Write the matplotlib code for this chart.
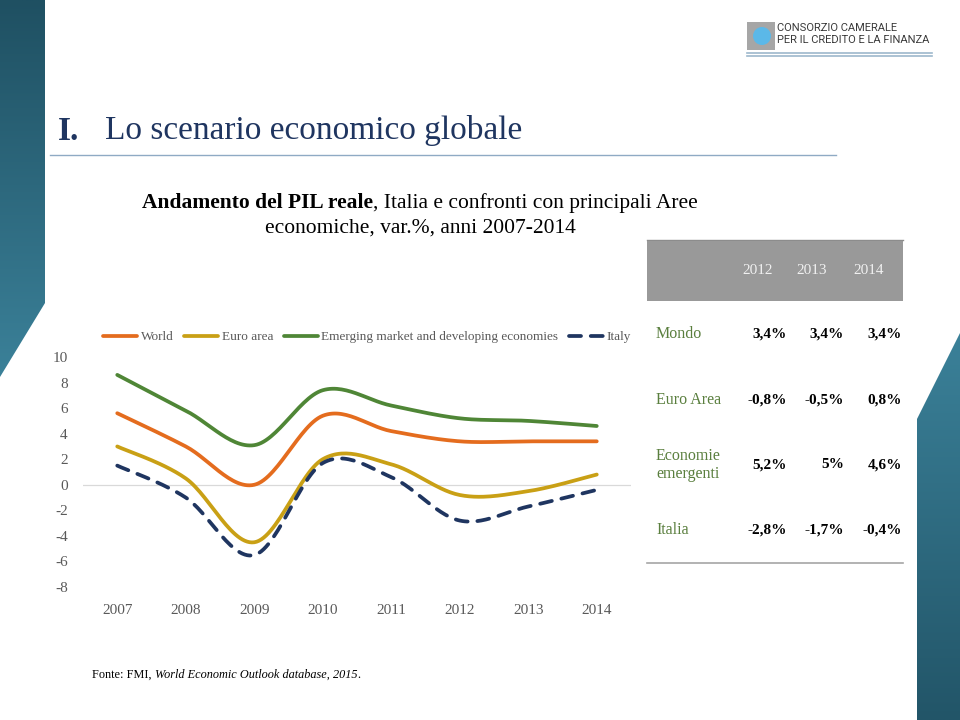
import numpy as np
import matplotlib
matplotlib.use("Agg")
import matplotlib.pyplot as plt
from matplotlib.colors import LinearSegmentedColormap
from matplotlib.patches import Polygon, Rectangle, Circle

# ---------------- data ----------------
years = [2007, 2008, 2009, 2010, 2011, 2012, 2013, 2014]
world = [5.6, 3.0, 0.0, 5.4, 4.2, 3.4, 3.4, 3.4]
euro_area = [3.0, 0.5, -4.5, 2.0, 1.6, -0.8, -0.5, 0.8]
emerging = [8.6, 5.8, 3.1, 7.4, 6.2, 5.2, 5.0, 4.6]
italy = [1.5, -1.0, -5.5, 1.7, 0.6, -2.8, -1.7, -0.4]
series_names = ["World", "Euro area", "Emerging market and developing economies", "Italy"]
yticks = [-8, -6, -4, -2, 0, 2, 4, 6, 8, 10]

table_cols = ["2012", "2013", "2014"]
table_rows = ["Mondo", "Euro Area", "Economie\nemergenti", "Italia"]
table_vals = [["3,4%", "3,4%", "3,4%"],
              ["-0,8%", "-0,5%", "0,8%"],
              ["5,2%", "5%", "4,6%"],
              ["-2,8%", "-1,7%", "-0,4%"]]

SERIF = ["Liberation Serif", "DejaVu Serif"]
plt.rcParams["font.family"] = SERIF

W, H = 960, 720
fig = plt.figure(figsize=(9.6, 7.2), dpi=100)
bg = fig.add_axes([0, 0, 1, 1])
bg.set_xlim(0, W)
bg.set_ylim(H, 0)
bg.axis("off")

# ---------------- decorations ----------------
cm_left = LinearSegmentedColormap.from_list("l", ["#1F5062", "#3B8199"])
grad = np.linspace(0, 1, 256).reshape(-1, 1)
im = bg.imshow(grad, extent=[0, 45, 377, 0], cmap=cm_left, aspect="auto", zorder=1)
poly = Polygon([(0, 0), (45, 0), (45, 303), (0, 377)], closed=True, transform=bg.transData,
               facecolor="none", edgecolor="none")
bg.add_patch(poly)
im.set_clip_path(poly)

cm_right = LinearSegmentedColormap.from_list("r", ["#3B8199", "#225568"])
im2 = bg.imshow(grad, extent=[917, 960, 720, 333], cmap=cm_right, aspect="auto", zorder=1)
poly2 = Polygon([(917, 419), (960, 333), (960, 720), (917, 720)], closed=True, transform=bg.transData,
                facecolor="none", edgecolor="none")
bg.add_patch(poly2)
im2.set_clip_path(poly2)
bg.set_xlim(0, W)
bg.set_ylim(H, 0)

# logo
bg.add_patch(Rectangle((747, 22), 28, 28, facecolor="#A6A6A6", edgecolor="none", zorder=2))
bg.add_patch(Circle((762, 36), 9, facecolor="#5BB8E8", edgecolor="none", zorder=3))
bg.text(777, 28, "CONSORZIO CAMERALE", fontsize=8, family="Roboto", color="#3A3A3A",
        va="center", ha="left")
bg.text(777, 40, "PER IL CREDITO E LA FINANZA", fontsize=8, family="Roboto", color="#3A3A3A",
        va="center", ha="left")
bg.plot([747, 932], [53, 53], color="#9DB8CC", lw=1.2, zorder=2)
bg.plot([747, 932], [56, 56], color="#9DB8CC", lw=1.2, zorder=2)

# title
bg.text(58, 131, "I.", fontsize=24, fontweight="bold", color="#1F3560", va="center", ha="left")
bg.text(105, 131, "Lo scenario economico globale", fontsize=24, color="#1F3560",
        va="center", ha="left")
bg.plot([50, 836], [155, 155], color="#8FAAC4", lw=1.0)

# subtitle (mixed bold / regular)
fig.canvas.draw()
r = fig.canvas.get_renderer()
t1 = bg.text(0, 203, "Andamento del PIL reale", fontsize=15.5, fontweight="bold", color="black",
             va="center", ha="left")
t2 = bg.text(0, 203, ", Italia e confronti con principali Aree", fontsize=15.5, color="black",
             va="center", ha="left")
w1 = t1.get_window_extent(r).width
w2 = t2.get_window_extent(r).width
cx = 420
x0 = cx - (w1 + w2) / 2
t1.set_x(x0)
t2.set_x(x0 + w1)
bg.text(cx, 228, "economiche, var.%, anni 2007-2014", fontsize=15.5, color="black",
        va="center", ha="center")

# source
t3 = bg.text(92, 675, "Fonte: FMI, ", fontsize=8.8, color="black", va="center", ha="left")
w3 = t3.get_window_extent(r).width
t4 = bg.text(92 + w3, 675, "World Economic Outlook database, 2015", fontsize=8.8, style="italic",
             color="black", va="center", ha="left")
w4 = t4.get_window_extent(r).width
bg.text(92 + w3 + w4, 675, ".", fontsize=8.8, color="black", va="center", ha="left")

# ---------------- table ----------------
bg.plot([647, 903], [240, 240], color="#8C8C8C", lw=1.0)
bg.add_patch(Rectangle((647, 241), 256, 60, facecolor="#999999", edgecolor="none", zorder=2))
col_x_center = [758, 812, 869]
for cxh, lab in zip(col_x_center, table_cols):
    bg.text(cxh, 271, lab, fontsize=11, color="#F0F0F0", ha="center", va="center", zorder=3)
row_y = [334, 400, 465, 530]
val_right = [787, 844, 902]
for ry, lab, vals in zip(row_y, table_rows, table_vals):
    bg.text(656, ry, lab, fontsize=11.5, color="#5A7F3E", ha="left", va="center",
            multialignment="left", linespacing=1.15)
    for xr, v in zip(val_right, vals):
        bg.text(xr, ry, v, fontsize=11, fontweight="bold", color="black", ha="right", va="center")
bg.plot([647, 903], [563, 563], color="#A6A6A6", lw=1.2)

# ---------------- chart ----------------
x_left, x_right = 83, 631
y_top, y_bot = 357, 587
ax = fig.add_axes([x_left / W, 1 - y_bot / H, (x_right - x_left) / W, (y_bot - y_top) / H])
ax.patch.set_alpha(0)
ax.set_xlim(2006.5, 2014.5)
ax.set_ylim(-8, 10)


def smooth(xs, ys, n=30):
    xs = np.asarray(xs, float)
    ys = np.asarray(ys, float)
    P = np.column_stack([xs, ys])
    Pext = np.vstack([P[0], P, P[-1]])
    out = []
    t = np.linspace(0, 1, n)[:, None]
    for i in range(len(P) - 1):
        p0, p1, p2, p3 = Pext[i], Pext[i + 1], Pext[i + 2], Pext[i + 3]
        c1 = p1 + (p2 - p0) / 6.0
        c2 = p2 - (p3 - p1) / 6.0
        seg = ((1 - t) ** 3) * p1 + 3 * ((1 - t) ** 2) * t * c1 + 3 * (1 - t) * t ** 2 * c2 + t ** 3 * p2
        out.append(seg if i == 0 else seg[1:])
    out = np.vstack(out)
    return out[:, 0], out[:, 1]


colors = ["#E46C1E", "#C9A015", "#4F8636", "#1F3560"]
data = [world, euro_area, emerging, italy]
handles = []
for vals, col, name in zip(data, colors, series_names):
    sx, sy = smooth(years, vals)
    if name == "Italy":
        ln, = ax.plot(sx, sy, color=col, lw=2.7, linestyle=(0, (3.2, 2.6)), label=name,
                      solid_capstyle="round", dash_capstyle="round")
    else:
        ln, = ax.plot(sx, sy, color=col, lw=2.7, label=name, solid_capstyle="round")
    handles.append(ln)

ax.axhline(0, color="#D9D9D9", lw=0.9, zorder=0)
for s in ax.spines.values():
    s.set_visible(False)
ax.set_yticks(yticks)
ax.set_yticklabels([str(v) for v in yticks])
ax.set_xticks(years)
ax.set_xticklabels([str(y) for y in years])
ax.tick_params(length=0, labelsize=11, colors="#595959")
ax.tick_params(axis="x", pad=12)
ax.tick_params(axis="y", pad=11)

leg = fig.legend(handles=handles, labels=series_names, loc="center",
                 bbox_to_anchor=(367 / W, 1 - 337 / H), ncol=4, frameon=False,
                 fontsize=9.5, handlelength=2.6, handletextpad=0.25, columnspacing=0.8,
                 labelcolor="#595959")

fig.savefig("out.png", dpi=100)
